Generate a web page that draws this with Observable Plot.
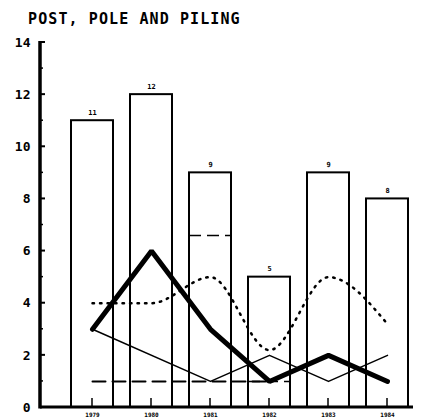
<!DOCTYPE html>
<html>
<head>
<meta charset="utf-8">
<script src="https://cdn.jsdelivr.net/npm/d3@7"></script>
<script src="https://cdn.jsdelivr.net/npm/@observablehq/plot@0.6"></script>
<style>
  body { margin: 0; background: #fff; }
  #wrap { position: relative; width: 433px; height: 417px; }
  #title { position: absolute; z-index: 2; left: 28px; top: 10px; font: bold 15px "DejaVu Sans Mono", monospace; letter-spacing: 1.1px; color: #000; }
  #chart { position: absolute; z-index: 1; left: 0; top: 0; }
</style>
</head>
<body>
<div id="wrap">
  <div id="chart"></div>
  <div id="title">POST, POLE AND PILING</div>
</div>
<script>
const years = ["1979", "1980", "1981", "1982", "1983", "1984"];
const barValues = [11, 12, 9, 5, 9, 8];
const thickLine = [3, 6, 3, 1, 2, 1];
const thinLine = [3, null, 1, 2, 1, 2];
const dottedLine = [4, 4, 5, 2.2, 5, 3.2];
const dashedLine = [1, 1, 1, 1];
const dashedExtra = [{year: "1981", value: 6.6}, {year: "1982", value: 1}];
const yTicksMajor = [0, 2, 4, 6, 8, 10, 12, 14];
const yTicksMinor = [1, 3, 5, 7, 9, 11, 13];

const bars = years.map((y, i) => ({year: y, value: barValues[i]}));
const thick = years.map((y, i) => ({year: y, value: thickLine[i]}));
const thin = years.map((y, i) => ({year: y, value: thinLine[i]})).filter(d => d.value != null);
const dotted = years.map((y, i) => ({year: y, value: dottedLine[i]}));
const dashed = dashedLine.map((v, i) => ({year: years[i], value: v}));

const font = "DejaVu Sans Mono";

// axis lines and inward ticks, drawn with Plot's own scales
function axisDecor(index, scales, values, dims) {
  const x = scales.x, y = scales.y;
  const bw = typeof x.bandwidth === "function" ? x.bandwidth() : 0;
  const g = d3.create("svg:g").attr("stroke", "black").attr("fill", "none");
  const left = dims.marginLeft;
  const bottom = y(0);
  g.append("line").attr("x1", left).attr("x2", left)
    .attr("y1", y(14) - 1).attr("y2", bottom + 1.5).attr("stroke-width", 3.5);
  g.append("line").attr("x1", left).attr("x2", dims.width - dims.marginRight)
    .attr("y1", bottom).attr("y2", bottom).attr("stroke-width", 3);
  for (const t of yTicksMajor) {
    g.append("line").attr("x1", left).attr("x2", left + 5)
      .attr("y1", y(t)).attr("y2", y(t)).attr("stroke-width", 2);
  }
  for (const t of yTicksMinor) {
    g.append("line").attr("x1", left).attr("x2", left + 3)
      .attr("y1", y(t)).attr("y2", y(t)).attr("stroke-width", 1.5);
  }
  for (const yr of years) {
    const cx = x(yr) + bw / 2;
    g.append("line").attr("x1", cx).attr("x2", cx)
      .attr("y1", bottom).attr("y2", bottom - 9).attr("stroke-width", 1.5);
  }
  return g.node();
}

const chart = Plot.plot({
  width: 433,
  height: 417,
  marginTop: 42,
  marginBottom: 10,
  marginLeft: 40,
  marginRight: 20,
  style: {fontFamily: font, background: "white", color: "black"},
  x: {type: "band", domain: years, paddingInner: 0.29, paddingOuter: 0.29, align: 0.87, label: null},
  y: {domain: [0, 14], label: null},
  marks: [
    Plot.barY(bars, {x: "year", y: "value", fill: "none", stroke: "black", strokeWidth: 2}),
    Plot.text(bars, {x: "year", y: "value", text: d => String(d.value), dy: -8, fontSize: 7, fontWeight: "bold"}),
    Plot.line(dotted, {x: "year", y: "value", curve: "monotone-x", stroke: "black", strokeWidth: 2.5, strokeDasharray: "1.5,6", strokeLinecap: "round"}),
    Plot.line(dashed, {x: "year", y: "value", stroke: "black", strokeWidth: 2, strokeDasharray: "13,7"}),
    Plot.tickY(dashedExtra, {x: "year", y: "value", stroke: "black", strokeWidth: 1.5, strokeDasharray: "12,6"}),
    Plot.line(thin, {x: "year", y: "value", stroke: "black", strokeWidth: 1.5}),
    Plot.line(thick, {x: "year", y: "value", stroke: "black", strokeWidth: 5, strokeLinejoin: "miter"}),
    Plot.axisY({ticks: yTicksMajor, tickSize: 0, tickPadding: 10, fontSize: 13, fontWeight: "bold", label: null}),
    Plot.axisX({tickSize: 0, tickPadding: 5, fontSize: 6, fontWeight: "bold", label: null}),
    axisDecor
  ]
});
document.getElementById("chart").append(chart);
</script>
</body>
</html>
